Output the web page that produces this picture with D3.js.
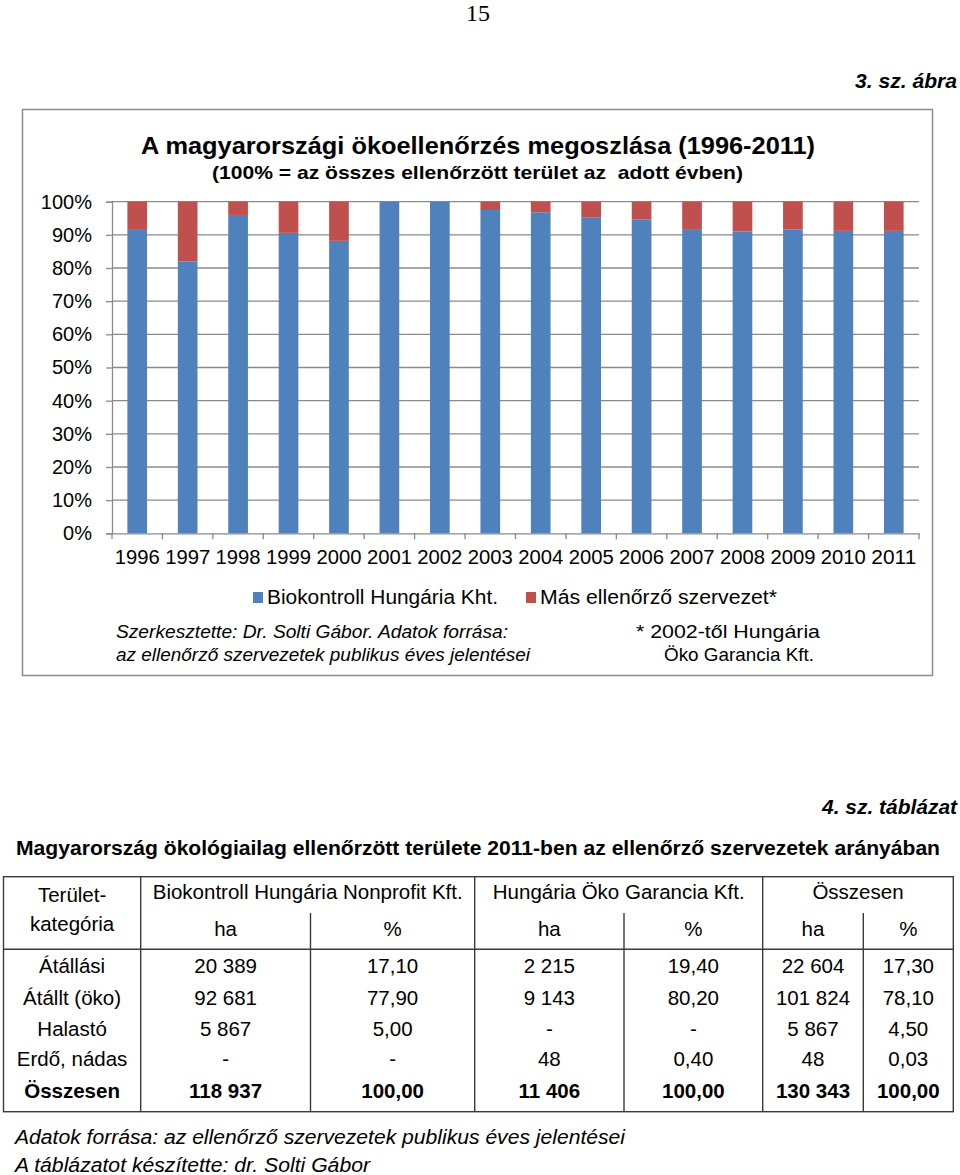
<!DOCTYPE html>
<html>
<head>
<meta charset="utf-8">
<script src="https://cdn.jsdelivr.net/npm/d3@7/dist/d3.min.js"></script>
<style>
  body { margin: 0; background: #fff; }
  svg text { font-family: "Liberation Sans", Arial, sans-serif; fill: #000; }
</style>
</head>
<body>
<svg id="page" width="960" height="1175"></svg>
<script>
// --- chart data (share of inspected area, %) ---
const years = ["1996","1997","1998","1999","2000","2001","2002","2003","2004","2005","2006","2007","2008","2009","2010","2011"];
const biokontroll = [91.5, 82.0, 96.0, 90.6, 88.2, 100, 100, 97.5, 96.8, 95.3, 94.6, 91.5, 91.0, 91.6, 91.2, 91.2];
const masSzervezet = [8.5, 18.0, 4.0, 9.4, 11.8, 0, 0, 2.5, 3.2, 4.7, 5.4, 8.5, 9.0, 8.4, 8.8, 8.8];
const yTicks = [0, 10, 20, 30, 40, 50, 60, 70, 80, 90, 100];
const seriesNames = ["Biokontroll Hungária Kht.", "Más ellenőrző szervezet*"];
const seriesColors = ["#4F81BD", "#C0504D"];

// --- table data (2011) ---
const rowLabels = ["Átállási", "Átállt (öko)", "Halastó", "Erdő, nádas", "Összesen"];
const bioHa   = ["20 389", "92 681", "5 867", "-", "118 937"];
const bioPct  = ["17,10", "77,90", "5,00", "-", "100,00"];
const hokHa   = ["2 215", "9 143", "-", "48", "11 406"];
const hokPct  = ["19,40", "80,20", "-", "0,40", "100,00"];
const sumHa   = ["22 604", "101 824", "5 867", "48", "130 343"];
const sumPct  = ["17,30", "78,10", "4,50", "0,03", "100,00"];
const groupHeads = ["Biokontroll Hungária Nonprofit Kft.", "Hungária Öko Garancia Kft.", "Összesen"];

const svg = d3.select("#page");

// stretch a text to the width it has in the source page
const fit = (sel, w) => sel.attr("textLength", w).attr("lengthAdjust", "spacingAndGlyphs");

// page number + figure label
svg.append("text").attr("x", 478).attr("y", 21).attr("text-anchor", "middle")
  .style("font-family", "'Liberation Serif', 'Times New Roman', serif").style("font-size", "24px").text("15");
svg.append("text").attr("x", 957).attr("y", 88).attr("text-anchor", "end")
  .style("font-size", "20px").style("font-weight", "bold").style("font-style", "italic")
  .text("3. sz. ábra").call(fit, 102);

// chart frame
svg.append("rect").attr("x", 22.5).attr("y", 109.5).attr("width", 910).attr("height", 566)
  .attr("fill", "#fff").attr("stroke", "#8c8c8c").attr("stroke-width", 1.5);

svg.append("text").attr("x", 478).attr("y", 154).attr("text-anchor", "middle")
  .style("font-size", "24px").style("font-weight", "bold")
  .text("A magyarországi ökoellenőrzés megoszlása (1996-2011)").call(fit, 674);
svg.append("text").attr("x", 477.5).attr("y", 179).attr("text-anchor", "middle")
  .style("font-size", "19px").style("font-weight", "bold").style("white-space", "pre")
  .text("(100% = az összes ellenőrzött terület az  adott évben)").call(fit, 531);

const plot = { left: 112, right: 919, top: 201.7, bottom: 533.3 };
const x = d3.scaleBand().domain(years).range([plot.left, plot.right]).paddingInner(0.61).paddingOuter(0.305);
const y = d3.scaleLinear().domain([0, 100]).range([plot.bottom, plot.top]);

const g = svg.append("g");

// gridlines
g.selectAll("line.grid").data(yTicks.filter(d => d > 0)).join("line")
  .attr("class", "grid")
  .attr("x1", plot.left).attr("x2", plot.right)
  .attr("y1", d => y(d)).attr("y2", d => y(d))
  .attr("stroke", "#8a8a8a").attr("stroke-width", 1.3);

// stacked bars
const table = years.map((yr, i) => ({ year: yr, bio: biokontroll[i], mas: masSzervezet[i] }));
const stack = d3.stack().keys(["bio", "mas"])(table);
g.selectAll("g.series").data(stack).join("g")
  .attr("fill", (d, i) => seriesColors[i])
  .selectAll("rect").data(d => d).join("rect")
  .attr("x", d => x(d.data.year))
  .attr("width", x.bandwidth())
  .attr("y", d => y(d[1]))
  .attr("height", d => y(d[0]) - y(d[1]));

// y axis
const yAxis = g.append("g").attr("transform", `translate(${plot.left},0)`)
  .call(d3.axisLeft(y).tickValues(yTicks).tickFormat(d => d + "%").tickSize(6).tickPadding(14));
yAxis.select(".domain").attr("stroke", "#8a8a8a").attr("stroke-width", 1.3);
yAxis.selectAll(".tick line").attr("stroke", "#8a8a8a").attr("stroke-width", 1.3);
yAxis.selectAll("text").style("font-size", "20px").style("font-family", "'Liberation Sans', Arial, sans-serif");

// x axis: ticks at band boundaries
const xAxis = g.append("g").attr("transform", `translate(0,${plot.bottom})`)
  .call(d3.axisBottom(x).tickSize(0).tickPadding(17));
xAxis.select(".domain").attr("stroke", "#8a8a8a").attr("stroke-width", 1.3);
xAxis.selectAll("text").style("font-size", "20px").style("font-family", "'Liberation Sans', Arial, sans-serif")
  .call(fit, 45);
const step = x.step();
g.selectAll("line.xtick").data(d3.range(years.length + 1)).join("line")
  .attr("class", "xtick")
  .attr("x1", i => plot.left + i * step).attr("x2", i => plot.left + i * step)
  .attr("y1", plot.bottom).attr("y2", plot.bottom + 6)
  .attr("stroke", "#8a8a8a").attr("stroke-width", 1.3);

// legend
const legendX = [253, 526];
const legendW = [231, 237];
const leg = svg.append("g").selectAll("g").data(seriesNames).join("g")
  .attr("transform", (d, i) => `translate(${legendX[i]},592)`);
leg.append("rect").attr("width", 10).attr("height", 11).attr("fill", (d, i) => seriesColors[i]);
leg.append("text").attr("x", 14).attr("y", 12).style("font-size", "20px").text(d => d)
  .each(function (d, i) { d3.select(this).call(fit, legendW[i]); });

// notes
const noteStyle = s => s.style("font-size", "19px");
svg.append("text").attr("x", 116).attr("y", 638).style("font-style", "italic").call(noteStyle)
  .text("Szerkesztette: Dr. Solti Gábor. Adatok forrása:").call(fit, 392);
svg.append("text").attr("x", 116).attr("y", 661).style("font-style", "italic").call(noteStyle)
  .text("az ellenőrző szervezetek publikus éves jelentései").call(fit, 414);
svg.append("text").attr("x", 636).attr("y", 638).call(noteStyle)
  .text("* 2002-től Hungária").call(fit, 184);
svg.append("text").attr("x", 664).attr("y", 661).call(noteStyle)
  .text("Öko Garancia Kft.").call(fit, 150);

// ---- table section ----
svg.append("text").attr("x", 957).attr("y", 814).attr("text-anchor", "end")
  .style("font-size", "20px").style("font-weight", "bold").style("font-style", "italic")
  .text("4. sz. táblázat").call(fit, 135);
svg.append("text").attr("x", 16).attr("y", 855)
  .style("font-size", "20px").style("font-weight", "bold")
  .text("Magyarország ökológiailag ellenőrzött területe 2011-ben az ellenőrző szervezetek arányában").call(fit, 924);

const colEdges = [3.5, 140.7, 310.5, 474.7, 624, 762.7, 863.3, 953.3];
const tTop = 876.7, tSub = 913, tHead = 949.3, tBottom = 1111.7;
const tg = svg.append("g").attr("stroke", "#3a3a3a").attr("stroke-width", 1.4);
tg.append("rect").attr("x", colEdges[0]).attr("y", tTop)
  .attr("width", colEdges[7] - colEdges[0]).attr("height", tBottom - tTop).attr("fill", "none");
tg.append("line").attr("x1", colEdges[0]).attr("x2", colEdges[7]).attr("y1", tHead).attr("y2", tHead);
[1, 3, 5].forEach(i => tg.append("line").attr("x1", colEdges[i]).attr("x2", colEdges[i]).attr("y1", tTop).attr("y2", tBottom));
[2, 4, 6].forEach(i => tg.append("line").attr("x1", colEdges[i]).attr("x2", colEdges[i]).attr("y1", tSub).attr("y2", tBottom));

const colCenter = i => (colEdges[i] + colEdges[i + 1]) / 2;
const fs = "20.5px";
const cell = (cx, cy, txt, bold) => svg.append("text").attr("x", cx).attr("y", cy + 7)
  .attr("text-anchor", "middle").style("font-size", fs).style("font-weight", bold ? "bold" : "normal").text(txt);

cell(colCenter(0), 895, "Terület-");
cell(colCenter(0), 924, "kategória");
groupHeads.forEach((h, i) => cell((colEdges[1 + 2 * i] + colEdges[3 + 2 * i]) / 2, 892, h));
[1, 2, 3, 4, 5, 6].forEach(i => cell(colCenter(i), 929, i % 2 ? "ha" : "%"));

const rowY = [966, 998, 1029, 1059, 1091];
const cols = [rowLabels, bioHa, bioPct, hokHa, hokPct, sumHa, sumPct];
cols.forEach((col, ci) => col.forEach((v, ri) => cell(colCenter(ci), rowY[ri], v, ri === rowLabels.length - 1)));

svg.append("text").attr("x", 15).attr("y", 1144).style("font-size", "20px").style("font-style", "italic")
  .text("Adatok forrása: az ellenőrző szervezetek publikus éves jelentései").call(fit, 610);
svg.append("text").attr("x", 15).attr("y", 1172).style("font-size", "20px").style("font-style", "italic")
  .text("A táblázatot készítette: dr. Solti Gábor").call(fit, 355);
</script>
</body>
</html>
